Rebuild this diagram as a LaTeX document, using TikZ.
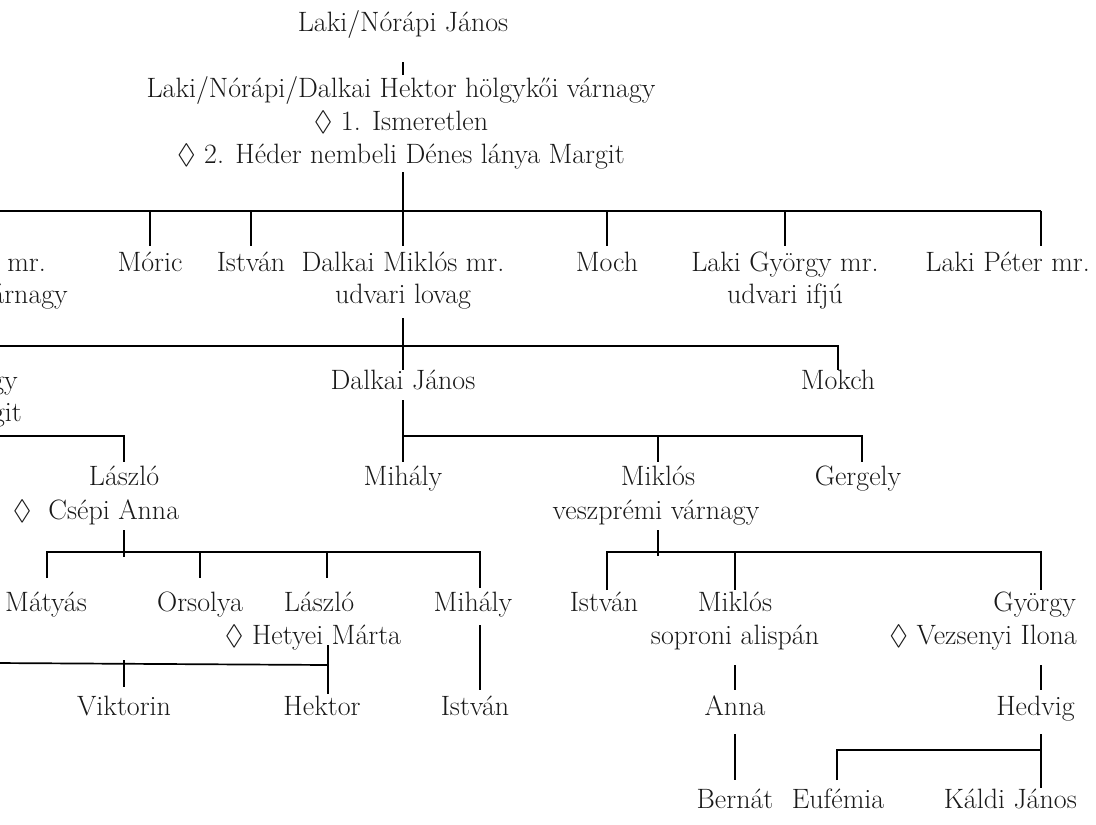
\documentclass[tikz,border=0pt]{standalone}
\usepackage{fontspec}
\usepackage{amssymb}
\newcommand\mydiam{$\lozenge$}
\begin{document}
\begin{tikzpicture}[x=1pt,y=-1pt,
  lbl/.style={font=\fontsize{28}{32}\selectfont, inner sep=0pt, anchor=base, text=black!90},
  lble/.style={lbl, anchor=base east},
  ln/.style={line width=1.7pt}]
\useasboundingbox (0,0) rectangle (1096,825);
\begin{scope}
\clip (0,0) rectangle (1096,825);
% ---- texts ----
\node[lbl] (janos) at (403,31) {Laki/Nórápi János};
\node[lbl] (hektor) at (401,97) {Laki/Nórápi/Dalkai Hektor hölgykői várnagy};
\node[lbl] (hektorA) at (401,130) {\mydiam\ 1. Ismeretlen};
\node[lbl] (hektorB) at (401,163) {\mydiam\ 2. Héder nembeli Dénes lánya Margit};
% level 1
\node[lble] (leftA) at (46,271) {György mr.};
\node[lble] (leftA2) at (68,303) {várnagy};
\node[lbl] (moric) at (150,271) {Móric};
\node[lbl] (istvanA) at (251,271) {István};
\node[lbl] (miklosA) at (403,271) {Dalkai Miklós mr.};
\node[lbl] (miklosA2) at (403,303) {udvari lovag};
\node[lbl] (moch) at (607,271) {Moch};
\node[lbl] (gyorgyA) at (785,271) {Laki György mr.};
\node[lbl] (gyorgyA2) at (785,303) {udvari ifjú};
\node[lble] (peter) at (1090,271) {Laki Péter mr.};
% level 2
\node[lble] (leftB) at (18,389) {várnagy};
\node[lble] (leftB2) at (22,421) {Margit};
\node[lbl] (djanos) at (403,389) {Dalkai János};
\node[lbl] (mokch) at (838,389) {Mokch};
% level 3
\node[lbl] (laszloA) at (124,485) {László};
\node[lbl] (laszloA2) at (96,519) {\mydiam\ \ Csépi Anna};
\node[lbl] (mihalyA) at (403,485) {Mihály};
\node[lbl] (miklosB) at (658,485) {Miklós};
\node[lbl] (miklosB2) at (656,519) {veszprémi várnagy};
\node[lbl] (gergely) at (858,485) {Gergely};
% level 4
\node[lbl] (matyas) at (46,611) {Mátyás};
\node[lbl] (orsolya) at (200,611) {Orsolya};
\node[lbl] (laszloB) at (319,611) {László};
\node[lbl] (laszloB2) at (313,644) {\mydiam\ Hetyei Márta};
\node[lbl] (mihalyB) at (473,611) {Mihály};
\node[lbl] (istvanB) at (604,611) {István};
\node[lbl] (miklosC) at (735,611) {Miklós};
\node[lbl] (miklosC2) at (735,644) {soproni alispán};
\node[lble] (gyorgyB) at (1076,611) {György};
\node[lble] (gyorgyB2) at (1077,644) {\mydiam\ Vezsenyi Ilona};
% level 5
\node[lbl] (viktorin) at (124,715) {Viktorin};
\node[lbl] (hektorC) at (322,715) {Hektor};
\node[lbl] (istvanC) at (475,715) {István};
\node[lbl] (anna) at (735,715) {Anna};
\node[lble] (hedvig) at (1075,715) {Hedvig};
% level 6
\node[lbl] (bernat) at (735,808) {Bernát};
\node[lbl] (eufemia) at (838,808) {Eufémia};
\node[lble] (kaldi) at (1077,808) {Káldi János};
% ---- connectors ----
\draw[ln] (janos |- 0,62) -- (janos |- 0,75);
\draw[ln] (janos |- 0,172) -- (miklosA |- 0,246);
\draw[ln] (-5,211) -- (1041,211);
\draw[ln] (moric |- 0,211) -- (moric |- 0,246);
\draw[ln] (istvanA |- 0,211) -- (istvanA |- 0,246);
\draw[ln] (moch |- 0,211) -- (moch |- 0,246);
\draw[ln] (gyorgyA |- 0,211) -- (gyorgyA |- 0,246);
\draw[ln] (1041,211) -- (1041,246);
% level 2
\draw[ln] (miklosA2 |- 0,318) -- (djanos |- 0,370);
\draw[ln] (-5,346) -- (838,346) -- (mokch |- 0,370);
\draw[ln] (djanos |- 0,400) -- (mihalyA |- 0,462);
\draw[ln] (403,436) -- (862,436) -- (862,462);
\draw[ln] (miklosB |- 0,436) -- (miklosB |- 0,462);
\draw[ln] (-5,436) -- (124,436) -- (laszloA |- 0,462);
% level 3 -> 4
\draw[ln] (laszloA |- 0,530) -- (laszloA |- 0,557);
\draw[ln] (47,578) -- (47,552) -- (480,552) -- (480,588);
\draw[ln] (orsolya |- 0,552) -- (orsolya |- 0,578);
\draw[ln] (327,552) -- (327,578);
\draw[ln] (658,530) -- (658,556);
\draw[ln] (607,590) -- (607,552) -- (1041,552) -- (1041,590);
\draw[ln] (miklosC |- 0,552) -- (miklosC |- 0,590);
% level 4 -> 5
\draw[ln] (-5,663) -- (328,665);
\draw[ln] (328,645) -- (328,694);
\draw[ln] (viktorin |- 0,660) -- (viktorin |- 0,687);
\draw[ln] (480,625) -- (480,690);
\draw[ln] (anna |- 0,665) -- (anna |- 0,690);
\draw[ln] (1041,665) -- (1041,690);
% level 5 -> 6
\draw[ln] (bernat |- 0,734) -- (bernat |- 0,780);
\draw[ln] (837,780) -- (837,750) -- (1041,750);
\draw[ln] (1041,734) -- (1041,788);
\end{scope}
\end{tikzpicture}
\end{document}
